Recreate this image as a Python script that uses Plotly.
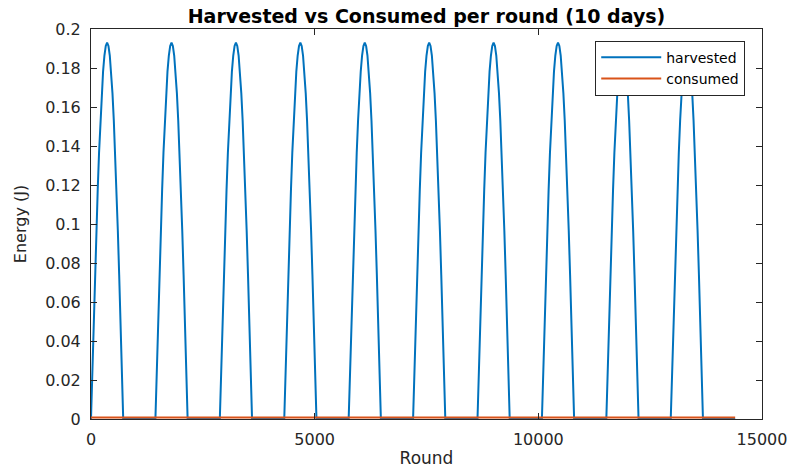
import plotly.graph_objects as go

# ---- data ----
days = 10
rounds_per_day = 1440
# one day's harvest profile (round offset within the day, energy J)
day_profile_rounds = [0, 30, 60, 90, 120, 150, 180, 210, 240, 270, 300, 330, 360,
                      390, 420, 450, 480, 510, 540, 570, 600, 630, 660, 690, 720]
day_profile_energy = [0.0, 0.0252, 0.0500, 0.0739, 0.0965, 0.1175, 0.1365, 0.1531,
                      0.1671, 0.1783, 0.1864, 0.1913, 0.1930, 0.1913, 0.1864, 0.1783,
                      0.1671, 0.1531, 0.1365, 0.1175, 0.0965, 0.0739, 0.0500, 0.0252, 0.0]
day_peaks = [0.193, 0.193, 0.193, 0.193, 0.193, 0.193, 0.193, 0.193, 0.193, 0.193]
consumed_energy = [0.0008, 0.0008, 0.0008, 0.0008, 0.0008, 0.0008,
                   0.0008, 0.0008, 0.0008, 0.0008, 0.0008]

y_tick_vals = [0, 0.02, 0.04, 0.06, 0.08, 0.1, 0.12, 0.14, 0.16, 0.18, 0.2]
y_tick_text = ["0", "0.02", "0.04", "0.06", "0.08", "0.1", "0.12", "0.14", "0.16", "0.18", "0.2"]
x_tick_vals = [0, 5000, 10000, 15000]
x_tick_text = ["0", "5000", "10000", "15000"]

# ---- assemble series ----
harv_x, harv_y = [], []
for d in range(days):
    scale = day_peaks[d] / 0.193
    for r, e in zip(day_profile_rounds, day_profile_energy):
        harv_x.append(d * rounds_per_day + r)
        harv_y.append(e * scale)
harv_x.append(days * rounds_per_day)
harv_y.append(0.0)

cons_x = [d * rounds_per_day for d in range(days + 1)]

BLUE = "#0072BD"
ORANGE = "#D95319"
AX = "#262626"
FONT = "DejaVu Sans"

fig = go.Figure()
fig.add_trace(go.Scatter(x=harv_x, y=harv_y, mode="lines", name="harvested",
                         line=dict(color=BLUE, width=2)))
fig.add_trace(go.Scatter(x=cons_x, y=consumed_energy, mode="lines", name="consumed",
                         line=dict(color=ORANGE, width=2)))

axis_common = dict(showline=True, linecolor=AX, linewidth=1, mirror="ticks",
                   ticks="inside", ticklen=6, tickcolor=AX, tickwidth=1,
                   showgrid=False, zeroline=False, automargin=False,
                   tickfont=dict(family=FONT, size=16, color=AX))

fig.update_layout(
    width=791, height=471,
    paper_bgcolor="white", plot_bgcolor="white",
    margin=dict(l=91, r=29, t=29, b=52, autoexpand=False),
    title=dict(text="<b>Harvested vs Consumed per round (10 days)</b>",
               x=0.5, xref="paper", xanchor="center",
               y=1 - 16 / 471, yref="container", yanchor="middle",
               font=dict(family=FONT, size=19, color="black")),
    xaxis=dict(range=[0, 15000], tickvals=x_tick_vals, ticktext=x_tick_text,
               title=dict(text="Round", font=dict(family=FONT, size=17, color=AX), standoff=3),
               ticklabelstandoff=6, **axis_common),
    yaxis=dict(range=[0, 0.2], tickvals=y_tick_vals, ticktext=y_tick_text,
               title=dict(text="Energy (J)", font=dict(family=FONT, size=16, color=AX), standoff=14),
               ticklabelstandoff=6, **axis_common),
    legend=dict(x=0.975, y=0.97, xanchor="right", yanchor="top",
                bgcolor="white", bordercolor=AX, borderwidth=1,
                font=dict(family=FONT, size=14, color="black"),
                itemwidth=60, tracegroupgap=0),
    showlegend=True,
)

fig.write_html("out.html",
               config={"displayModeBar": False},
               post_script="document.body.style.margin='0';document.body.style.padding='0';")
